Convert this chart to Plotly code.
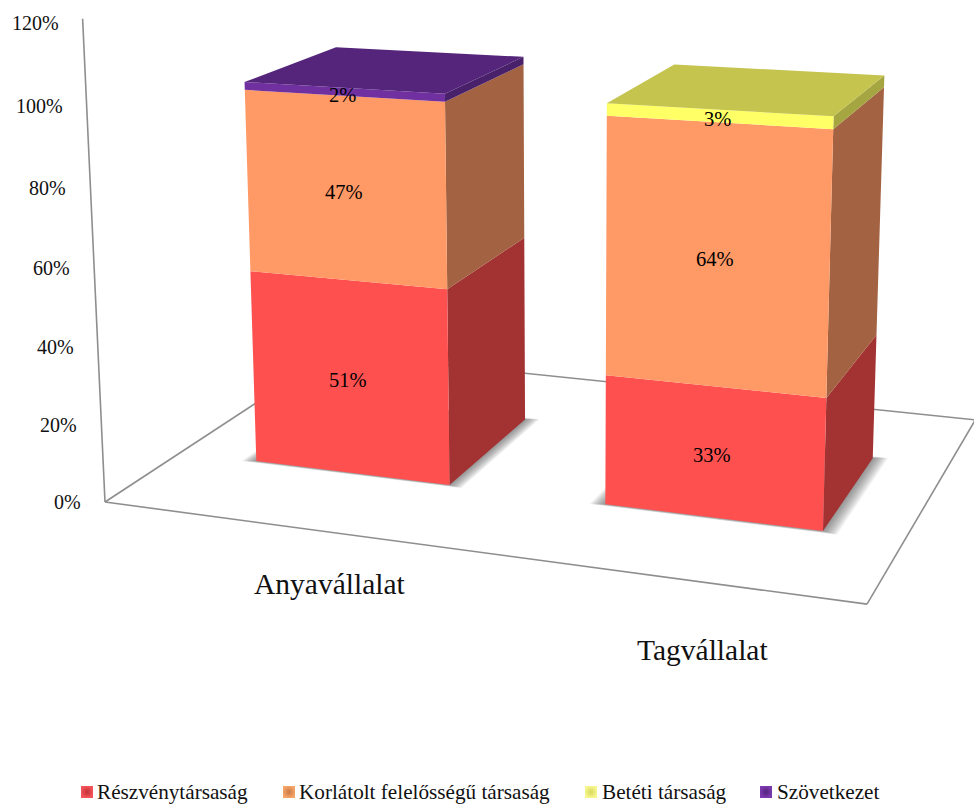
import plotly.graph_objects as go

# Chart data (percent of companies per legal form)
categories = ["Anyavállalat", "Tagvállalat"]
series_names = ["Részvénytársaság", "Korlátolt felelősségű társaság", "Betéti társaság", "Szövetkezet"]
reszvenytarsasag = [51, 33]
korlatolt = [47, 64]
beteti = [0, 3]
szovetkezet = [2, 0]
tick_values = [0, 20, 40, 60, 80, 100, 120]

series_values = [reszvenytarsasag, korlatolt, beteti, szovetkezet]

# Face colours: front, right side, top
face_colors = [
    ("#FF5050", "#A33232", "#C43E3E"),
    ("#FF9966", "#A36241", "#C4764E"),
    ("#FFFF66", "#A5A541", "#C4C44F"),
    ("#7030A0", "#49206A", "#54257A"),
]
# Legend key colours: centre and rim of the bevelled square
legend_centers = ["#F4545A", "#F5A468", "#F6F68C", "#7C3AAE"]
legend_rims = ["#C22F36", "#C87A46", "#D8D860", "#55247E"]

FONT = "Liberation Serif"
TEXT_COLOR = "#111111"
AXIS_GRAY = "#8E8E8E"

# Three-point perspective: a vanishing point for each box direction and its pull
ORIGIN = (105.0, 502.0)
VP_WIDTH, PULL_WIDTH = (-5550.0, -256.0), -0.11875
VP_DEPTH, PULL_DEPTH = (1442.0, -374.0), 0.2045
VP_UP, PULL_UP = (568.0, 10500.0), -0.0381

BAR_LEFT = [0.115, 0.615]
BAR_WIDTH = 0.284
BAR_FRONT, BAR_BACK = 0.297, 0.705
AXIS_END = 121

# Pixel layout of the free-standing texts and legend keys
CATEGORY_POS = [(330, 584), (702, 650)]
LEGEND_Y = 792
LEGEND_KEY_X = [87, 289, 591, 766]
LEGEND_TEXT_X = [95, 297, 600, 775]


def project(x, y, value):
    """Map floor position (x, y in 0..1) and height in percent to the drawing plane."""
    z = value / 100.0
    w = 1 + PULL_WIDTH * x + PULL_DEPTH * y + PULL_UP * z
    u = ORIGIN[0] + PULL_WIDTH * x * VP_WIDTH[0] + PULL_DEPTH * y * VP_DEPTH[0] + PULL_UP * z * VP_UP[0]
    v = ORIGIN[1] + PULL_WIDTH * x * VP_WIDTH[1] + PULL_DEPTH * y * VP_DEPTH[1] + PULL_UP * z * VP_UP[1]
    return u / w, v / w


def polygon(points):
    xy = [project(*p) for p in points]
    xy.append(xy[0])
    return [p[0] for p in xy] + [None], [p[1] for p in xy] + [None]


def add_polys(fig, polys, color, name=None):
    xs, ys = [], []
    for pts in polys:
        px, py = polygon(pts)
        xs += px
        ys += py
    fig.add_trace(go.Scatter(x=xs, y=ys, mode="lines", line=dict(width=0), fill="toself",
                             fillcolor=color, hoverinfo="skip", showlegend=False, name=name))


def add_line(fig, a, b):
    (x0, y0), (x1, y1) = project(*a), project(*b)
    fig.add_trace(go.Scatter(x=[x0, x1], y=[y0, y1], mode="lines",
                             line=dict(color=AXIS_GRAY, width=1.6),
                             hoverinfo="skip", showlegend=False))


fig = go.Figure()

# Floor outline and the value axis
add_line(fig, (0, 0, 0), (1, 0, 0))
add_line(fig, (1, 0, 0), (1, 1, 0))
add_line(fig, (1, 1, 0), (0, 1, 0))
add_line(fig, (0, 1, 0), (0, 0, 0))
add_line(fig, (0, 0, 0), (0, 0, AXIS_END))

# Soft contact shadows under the bars, built from stacked translucent footprints
SHADOW_STEPS = 12
for step in range(SHADOW_STEPS):
    grow = 0.0016 * (SHADOW_STEPS - step)
    polys = []
    for left in BAR_LEFT:
        x0, x1 = left - grow, left + BAR_WIDTH + grow
        y0, y1 = BAR_FRONT - grow * 0.45, BAR_BACK + grow * 0.6
        polys.append([(x0, y0, 0), (x1, y0, 0), (x1, y1, 0), (x0, y1, 0)])
    add_polys(fig, polys, "rgba(70,70,70,0.06)")

# Stacked bars: each segment contributes its side and front, the last one also a top
for s, values in enumerate(series_values):
    front, side, top = face_colors[s]
    fronts, sides, tops = [], [], []
    for c, value in enumerate(values):
        if value == 0:
            continue
        base = sum(series_values[k][c] for k in range(s))
        end = base + value
        x0, x1 = BAR_LEFT[c], BAR_LEFT[c] + BAR_WIDTH
        y0, y1 = BAR_FRONT, BAR_BACK
        fronts.append([(x0, y0, base), (x1, y0, base), (x1, y0, end), (x0, y0, end)])
        sides.append([(x1, y0, base), (x1, y1, base), (x1, y1, end), (x1, y0, end)])
        if not any(series_values[k][c] for k in range(s + 1, len(series_values))):
            tops.append([(x0, y0, end), (x1, y0, end), (x1, y1, end), (x0, y1, end)])
    add_polys(fig, sides, side, series_names[s])
    add_polys(fig, fronts, front, series_names[s])
    if tops:
        add_polys(fig, tops, top, series_names[s])

annotations = []

# Value labels centred on each front face
for s, values in enumerate(series_values):
    for c, value in enumerate(values):
        if value == 0:
            continue
        base = sum(series_values[k][c] for k in range(s))
        px, py = project(BAR_LEFT[c] + BAR_WIDTH / 2, BAR_FRONT, base + value / 2)
        annotations.append(dict(x=px, y=py, xref="x", yref="y", text=f"{value}%", showarrow=False,
                                xanchor="center", yanchor="middle", xshift=-1, yshift=-3,
                                font=dict(family=FONT, size=20.5, color="black")))

# Value axis labels
for t in tick_values:
    px, py = project(0, 0, t)
    annotations.append(dict(x=px, y=py, xref="x", yref="y", text=f"{t}%", showarrow=False,
                            xanchor="right", xshift=-22, yanchor="middle",
                            font=dict(family=FONT, size=20, color=TEXT_COLOR)))

# Category labels under the floor
for name, (px, py) in zip(categories, CATEGORY_POS):
    annotations.append(dict(x=px, y=py, xref="x", yref="y", text=name, showarrow=False,
                            xanchor="center", yanchor="middle",
                            font=dict(family=FONT, size=29.5, color=TEXT_COLOR)))

# Legend row: bevelled square keys with their series names
for name, key_x, text_x, center, rim in zip(series_names, LEGEND_KEY_X, LEGEND_TEXT_X,
                                            legend_centers, legend_rims):
    fig.add_trace(go.Scatter(x=[key_x], y=[LEGEND_Y], mode="markers", name=name, showlegend=False,
                             hoverinfo="name",
                             marker=dict(symbol="square", size=12, color=center,
                                         gradient=dict(type="radial", color=rim),
                                         line=dict(width=0))))
    annotations.append(dict(x=text_x, y=LEGEND_Y, xref="x", yref="y", text=name, showarrow=False,
                            xanchor="left", yanchor="middle",
                            font=dict(family=FONT, size=21.2, color=TEXT_COLOR)))

fig.update_layout(
    width=974, height=805,
    margin=dict(l=0, r=0, t=0, b=0),
    paper_bgcolor="white", plot_bgcolor="white",
    showlegend=False,
    xaxis=dict(range=[0, 974], visible=False, fixedrange=True),
    yaxis=dict(range=[805, 0], visible=False, fixedrange=True),
    annotations=annotations,
)

fig.write_html("out.html")
